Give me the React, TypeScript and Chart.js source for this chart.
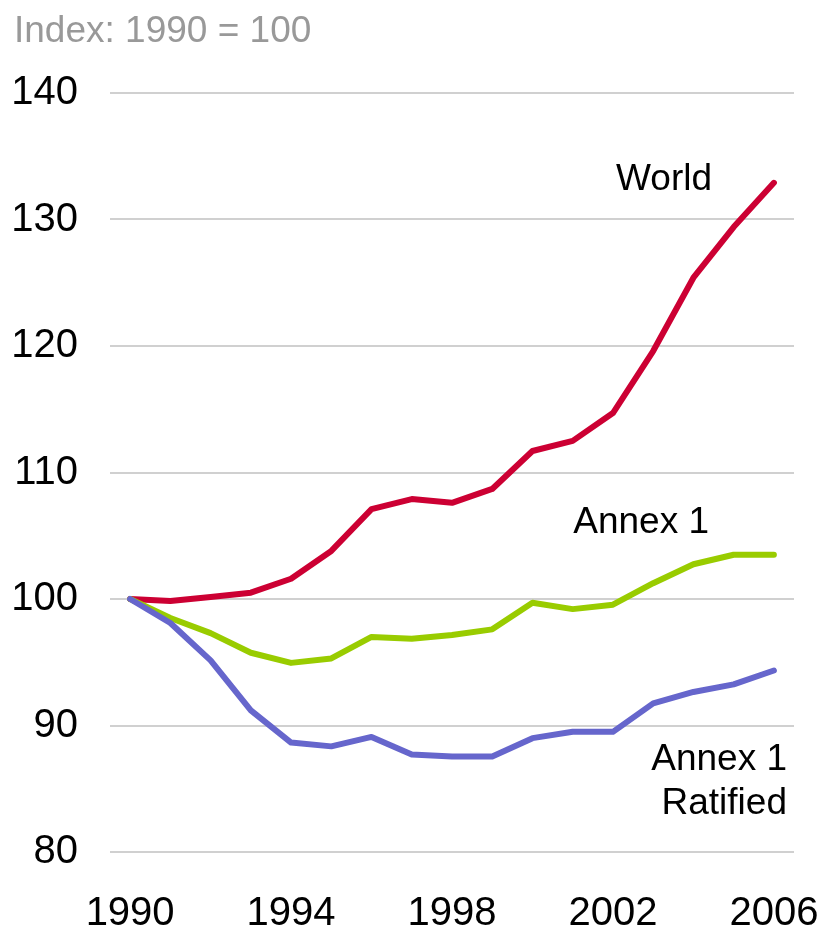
import React, { useEffect, useRef } from "react";
import { Chart, registerables } from "chart.js";

Chart.register(...registerables);

const years: string[] = [
  "1990", "1991", "1992", "1993", "1994", "1995", "1996", "1997", "1998",
  "1999", "2000", "2001", "2002", "2003", "2004", "2005", "2006",
];
const world: number[] = [
  100, 99.85, 100.15, 100.5, 101.6, 103.8, 107.1, 107.9, 107.6, 108.7,
  111.7, 112.5, 114.7, 119.6, 125.4, 129.4, 132.9,
];
const annex1: number[] = [
  100, 98.5, 97.3, 95.75, 94.95, 95.3, 97.0, 96.85, 97.15, 97.6, 99.7,
  99.2, 99.55, 101.25, 102.75, 103.5, 103.5,
];
const annex1Ratified: number[] = [
  100, 98.1, 95.15, 91.2, 88.65, 88.35, 89.1, 87.7, 87.55, 87.55, 89.0,
  89.5, 89.5, 91.75, 92.65, 93.25, 94.35,
];
const yTicks = { min: 80, max: 140, step: 10 };
const titleText = "Index: 1990 = 100";
const seriesLabels = ["World", "Annex 1", "Annex 1", "Ratified"];

const FONT = "'Liberation Sans', Arial, sans-serif";

const textPlugin = {
  id: "textPlugin",
  afterDraw(chart: any) {
    const ctx = chart.ctx;
    ctx.save();
    ctx.textBaseline = "alphabetic";
    ctx.fillStyle = "#999999";
    ctx.textAlign = "left";
    ctx.font = `37px ${FONT}`;
    ctx.fillText(titleText, 14, 42);

    ctx.fillStyle = "#000000";
    ctx.textAlign = "right";
    ctx.font = `37px ${FONT}`;
    ctx.fillText(seriesLabels[0], 712, 190);
    ctx.fillText(seriesLabels[1], 709, 533);
    ctx.fillText(seriesLabels[2], 787, 770);
    ctx.fillText(seriesLabels[3], 787, 814);
    ctx.restore();
  },
};

export default function App() {
  const canvasRef = useRef<HTMLCanvasElement | null>(null);

  useEffect(() => {
    if (!canvasRef.current) return;
    const chart = new Chart(canvasRef.current, {
      type: "line",
      data: {
        labels: years,
        datasets: [
          {
            label: "Annex 1 Ratified",
            data: annex1Ratified,
            borderColor: "#6666CC",
            borderWidth: 6,
            pointRadius: 0,
            tension: 0,
            fill: false,
            borderCapStyle: "round",
            borderJoinStyle: "round",
          },
          {
            label: "Annex 1",
            data: annex1,
            borderColor: "#99CC00",
            borderWidth: 6,
            pointRadius: 0,
            tension: 0,
            fill: false,
            borderCapStyle: "round",
            borderJoinStyle: "round",
          },
          {
            label: "World",
            data: world,
            borderColor: "#CC0033",
            borderWidth: 6,
            pointRadius: 0,
            tension: 0,
            fill: false,
            borderCapStyle: "round",
            borderJoinStyle: "round",
          },
        ],
      },
      options: {
        responsive: false,
        animation: false,
        maintainAspectRatio: false,
        layout: { padding: { left: 11, right: 31, top: 93, bottom: 0 } },
        plugins: {
          legend: { display: false },
          title: { display: false },
          tooltip: { enabled: false },
        },
        scales: {
          x: {
            type: "category",
            offset: true,
            grid: { display: false, drawTicks: false },
            border: { display: false },
            afterFit: (scale: any) => {
              scale.height = 77;
              scale.paddingLeft = 0;
              scale.paddingRight = 0;
            },
            ticks: {
              autoSkip: false,
              maxRotation: 0,
              padding: 42,
              color: "#000000",
              font: { family: FONT, size: 40, lineHeight: 1 },
              callback: (_v: any, i: number) => (i % 4 === 0 ? years[i] : ""),
            },
          },
          y: {
            min: yTicks.min,
            max: yTicks.max,
            grid: { color: "#d0d0d0", lineWidth: 2, drawTicks: false },
            border: { display: false },
            afterFit: (scale: any) => {
              scale.width = 99;
              scale.paddingTop = 0;
              scale.paddingBottom = 0;
            },
            ticks: {
              stepSize: yTicks.step,
              padding: 32,
              color: "#000000",
              font: { family: FONT, size: 40, lineHeight: 1 },
            },
          },
        },
      },
      plugins: [textPlugin],
    });
    return () => chart.destroy();
  }, []);

  return (
    <div style={{ position: "absolute", left: 0, top: 0, width: 825, height: 929 }}>
      <canvas ref={canvasRef} width={825} height={929} style={{ display: "block" }} />
    </div>
  );
}
